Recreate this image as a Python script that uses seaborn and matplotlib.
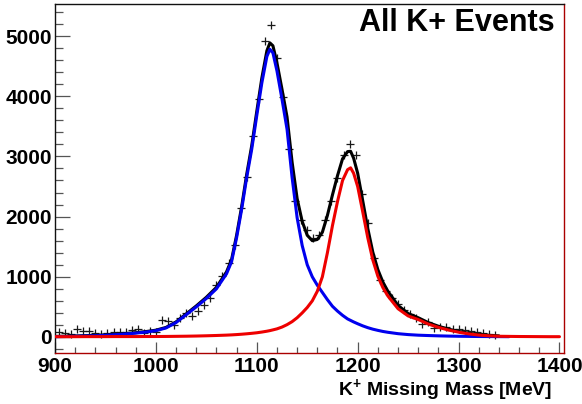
import numpy as np
import pandas as pd
import matplotlib.pyplot as plt
from matplotlib.ticker import MultipleLocator
import seaborn as sns

sns.set_theme(style='ticks')
plt.rcParams['font.family'] = ['Liberation Sans', 'DejaVu Sans']
plt.rcParams['font.weight'] = 'bold'
plt.rcParams['mathtext.default'] = 'regular'
plt.rcParams['text.color'] = 'black'
plt.rcParams['axes.labelcolor'] = 'black'
plt.rcParams['xtick.labelcolor'] = 'black'
plt.rcParams['ytick.labelcolor'] = 'black'

# measured K+ missing mass spectrum, 6 MeV bins starting at 904 MeV
bin_start = 904
bin_width = 6
counts = [80, 70, 45, 125, 100, 100, 65, 55, 60, 75,
          90, 75, 120, 125, 70, 100, 90, 280, 270, 200,
          320, 400, 355, 435, 535, 655, 865, 1015, 1230, 1530,
          2145, 2660, 3340, 3950, 4910, 5180, 4640, 3990, 3120, 2260,
          1950, 1780, 1640, 1700, 1950, 2260, 2640, 3020, 3200, 3030,
          2370, 1900, 1310, 950, 760, 640, 540, 450, 380, 320,
          220, 250, 145, 170, 165, 140, 130, 110, 100, 75,
          65, 50, 40]

# fitted line shapes
fit_mass = [900, 910, 920, 930, 940, 950, 960, 970, 980, 990,
            1000, 1010, 1020, 1030, 1040, 1050, 1060, 1070, 1075, 1080,
            1085, 1090, 1095, 1100, 1105, 1110, 1113, 1116, 1120, 1125,
            1130, 1135, 1140, 1145, 1150, 1155, 1160, 1165, 1170, 1175,
            1180, 1185, 1190, 1193, 1196, 1200, 1205, 1210, 1215, 1220,
            1225, 1230, 1240, 1250, 1260, 1270, 1280, 1290, 1300, 1310,
            1320, 1330, 1340, 1350, 1360, 1370, 1380, 1390, 1400]
lambda_fit = [5, 8, 12, 16, 21, 28, 38, 50, 64, 82,
              105, 150, 240, 370, 500, 640, 800, 1050, 1250, 1650,
              2120, 2650, 3120, 3680, 4220, 4660, 4780, 4720, 4420, 3950,
              3450, 2650, 1980, 1520, 1200, 1000, 860, 740, 620, 510,
              430, 360, 300, 275, 250, 220, 185, 155, 130, 110,
              92, 78, 55, 40, 30, 24, 19, 15, 12, 10,
              8, 7, 6, 5, 4, 4, 3, 3, 3]
sigma_fit = [5, 5, 5, 6, 6, 6, 7, 7, 7, 8,
             8, 9, 11, 13, 16, 20, 25, 31, 35, 40,
             46, 53, 61, 70, 82, 96, 106, 118, 135, 165,
             205, 255, 320, 400, 490, 600, 760, 1000, 1400, 1850,
             2250, 2600, 2780, 2810, 2720, 2500, 2080, 1650, 1280, 1010,
             820, 680, 470, 350, 290, 215, 160, 115, 80, 52,
             32, 20, 12, 10, 8, 7, 6, 5, 5]

data = pd.DataFrame({'mass': bin_start + bin_width * np.arange(len(counts)),
                     'counts': counts})
fit = pd.DataFrame({'mass': fit_mass, 'lam': lambda_fit, 'sig': sigma_fit})
fit['total'] = fit['lam'] + fit['sig']

fig = plt.figure(figsize=(5.82, 4.04), dpi=100)
ax = fig.add_axes([55 / 582, 1 - 353 / 404, 509 / 582, 349 / 404])

sns.scatterplot(data=data, x='mass', y='counts', marker='+', s=40,
                color='#1a1a1a', linewidth=0.9, ax=ax, zorder=2)
tot = fit[fit['mass'] <= 1340]
sns.lineplot(x=tot['mass'], y=tot['total'], color='black', lw=2.2,
             sort=False, estimator=None, ax=ax, zorder=3)
lam = fit[fit['mass'] <= 1350]
sns.lineplot(x=lam['mass'], y=lam['lam'], color='#0000ee', lw=2.2,
             sort=False, estimator=None, ax=ax, zorder=4)
sns.lineplot(x=fit['mass'], y=fit['sig'], color='#ee0000', lw=2.2,
             sort=False, estimator=None, ax=ax, zorder=5)

ax.set_xlim(900, 1404.5)
ax.set_ylim(-266, 5532)
ax.xaxis.set_major_locator(MultipleLocator(100))
ax.xaxis.set_minor_locator(MultipleLocator(20))
ax.yaxis.set_major_locator(MultipleLocator(1000))
ax.yaxis.set_minor_locator(MultipleLocator(200))
ax.tick_params(axis='both', which='both', direction='in', color='#555555',
               width=0.9, labelsize=15)
ax.tick_params(axis='y', which='major', length=11, pad=2)
ax.tick_params(axis='y', which='minor', length=5.5)
ax.tick_params(axis='x', which='major', length=8, pad=3)
ax.tick_params(axis='x', which='minor', length=4)
for lab in ax.get_xticklabels() + ax.get_yticklabels():
    lab.set_fontweight('bold')

for side in ['left', 'top']:
    ax.spines[side].set_color('#111111')
for side in ['right', 'bottom']:
    ax.spines[side].set_color('#aa0000')
for side in ax.spines:
    ax.spines[side].set_linewidth(1.0)
    ax.spines[side].set_visible(True)

ax.set_ylabel('')
ax.set_xlabel('K$^{+}$ Missing Mass [MeV]', fontsize=14, fontweight='bold',
              loc='right', color='black')
ax.xaxis.set_label_coords(0.978, -0.068)
ax.text(0.982, 0.946, 'All K+ Events', transform=ax.transAxes, ha='right',
        va='center', fontsize=22, fontweight='bold', color='black')

fig.savefig('out.png', dpi=100, facecolor='white')
